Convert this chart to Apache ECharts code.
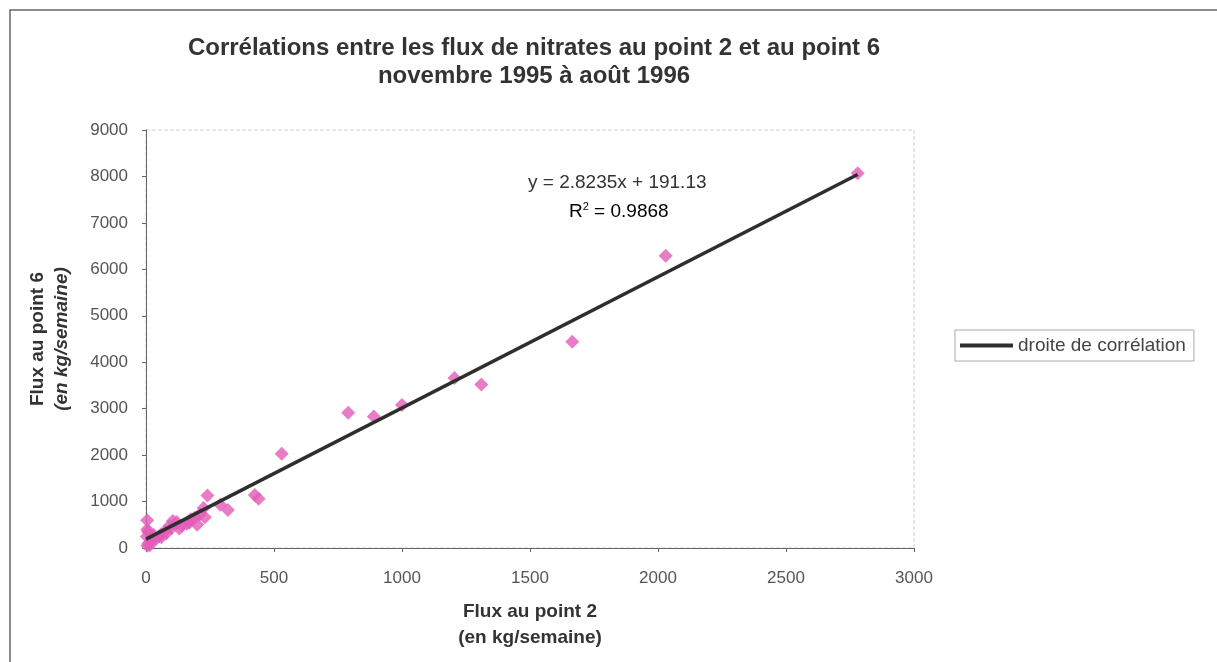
<!DOCTYPE html>
<html>
<head>
<meta charset="utf-8">
<script src="https://cdn.jsdelivr.net/npm/echarts@6/dist/echarts.min.js"></script>
<style>
html,body{margin:0;padding:0;background:#fff;}
#c{width:1217px;height:662px;}
</style>
</head>
<body>
<div id="c"></div>
<script>
// Data: flux au point 2 (x) vs flux au point 6 (y), kg/semaine
const fluxPoint2 = [2780, 2030, 1665, 1310, 1205, 1000, 890, 790, 530, 440, 425, 320, 290, 240, 225, 210, 200, 230, 190, 175, 160, 140, 120, 105, 100, 90, 75, 60, 50, 40, 30, 20, 10, 5, 5, 8, 3, 5, 15, 25, 130, 170, 60, 80];
const fluxPoint6 = [8070, 6290, 4440, 3520, 3660, 3080, 2830, 2910, 2030, 1060, 1140, 820, 930, 1130, 860, 720, 500, 660, 650, 620, 520, 480, 560, 580, 430, 470, 350, 300, 250, 200, 280, 150, 100, 600, 400, 350, 250, 50, 60, 180, 420, 550, 230, 320];
const slope = 2.8235;
const intercept = 191.13;
const trendX = [0, 2780];
const xTicks = [0, 500, 1000, 1500, 2000, 2500, 3000];
const yTicks = [0, 1000, 2000, 3000, 4000, 5000, 6000, 7000, 8000, 9000];

const points = fluxPoint2.map((x, i) => [x, fluxPoint6[i]]);
const trend = trendX.map(x => [x, slope * x + intercept]);

const chart = echarts.init(document.getElementById('c'));
const font = 'Liberation Sans, Arial, sans-serif';
chart.setOption({
  animation: false,
  backgroundColor: '#fff',
  title: {
    text: 'Corrélations entre les flux de nitrates au point 2 et au point 6\nnovembre 1995 à août 1996',
    left: 529, top: 29, textAlign: 'center',
    textStyle: {fontFamily: font, fontSize: 24, fontWeight: 'bold', color: '#333', lineHeight: 28}
  },
  legend: {
    data: [{name: 'droite de corrélation'}],
    left: 955, top: 330, orient: 'vertical',
    itemWidth: 53, itemHeight: 4, itemGap: 0,
    padding: [6, 8, 6, 5],
    borderColor: '#aaa', borderWidth: 1,
    textStyle: {fontFamily: font, fontSize: 19, color: '#444'},
    icon: 'rect'
  },
  grid: {left: 146, top: 130, right: 303, bottom: 114, show: true, borderColor: '#cfcfcf', borderWidth: 1, borderType: 'dashed'},
  xAxis: {
    type: 'value', min: 0, max: 3000, interval: 500,
    name: '{a|Flux au point 2}\n{a|(en kg/semaine)}',
    nameLocation: 'middle', nameGap: 51,
    nameTextStyle: {rich: {a: {fontFamily: font, fontSize: 19, fontWeight: 'bold', color: '#333', lineHeight: 26}}},
    axisLine: {lineStyle: {color: '#666', width: 1}},
    axisTick: {show: true, length: 4, lineStyle: {color: '#666'}},
    axisLabel: {fontFamily: font, fontSize: 17, color: '#555', margin: 22, formatter: v => String(v)},
    splitLine: {show: false}
  },
  yAxis: {
    type: 'value', min: 0, max: 9000, interval: 1000,
    name: '{a|Flux au point 6}\n{b|(en kg/semaine)}',
    nameLocation: 'middle', nameGap: 72,
    nameTextStyle: {rich: {
      a: {fontFamily: font, fontSize: 19, fontWeight: 'bold', color: '#333', lineHeight: 24},
      b: {fontFamily: font, fontSize: 19, fontWeight: 'bold', fontStyle: 'italic', color: '#333', lineHeight: 24}
    }},
    axisLine: {show: true, lineStyle: {color: '#666', width: 1}},
    axisTick: {show: true, length: 4, lineStyle: {color: '#666'}},
    axisLabel: {fontFamily: font, fontSize: 17, color: '#555', margin: 18, formatter: v => String(v)},
    splitLine: {show: false}
  },
  graphic: [
    {type: 'rect', shape: {x: 10, y: 10, width: 1240, height: 700}, style: {fill: 'none', stroke: '#666', lineWidth: 1.5}, silent: true, z: -1},
    {type: 'text', left: 528, top: 173, style: {text: 'y = 2.8235x + 191.13', font: '19px Liberation Sans, Arial, sans-serif', fill: '#333'}},
    {type: 'text', left: 569, top: 201, style: {text: '{r|R}{s|2}{r| = 0.9868}', rich: {
      r: {fontFamily: font, fontSize: 19, color: '#333', verticalAlign: 'bottom'},
      s: {fontFamily: font, fontSize: 11, color: '#333', verticalAlign: 'top', padding: [0, 0, 9, 0]}
    }}}
  ],
  series: [
    {
      name: 'points', type: 'scatter', data: points,
      symbol: 'diamond', symbolSize: 14,
      itemStyle: {color: '#E25DB8'}, z: 2
    },
    {
      name: 'droite de corrélation', type: 'line', data: trend,
      symbol: 'none', lineStyle: {color: '#2e2e2e', width: 3.5},
      itemStyle: {color: '#2e2e2e'}, z: 3
    }
  ]
});
</script>
</body>
</html>
